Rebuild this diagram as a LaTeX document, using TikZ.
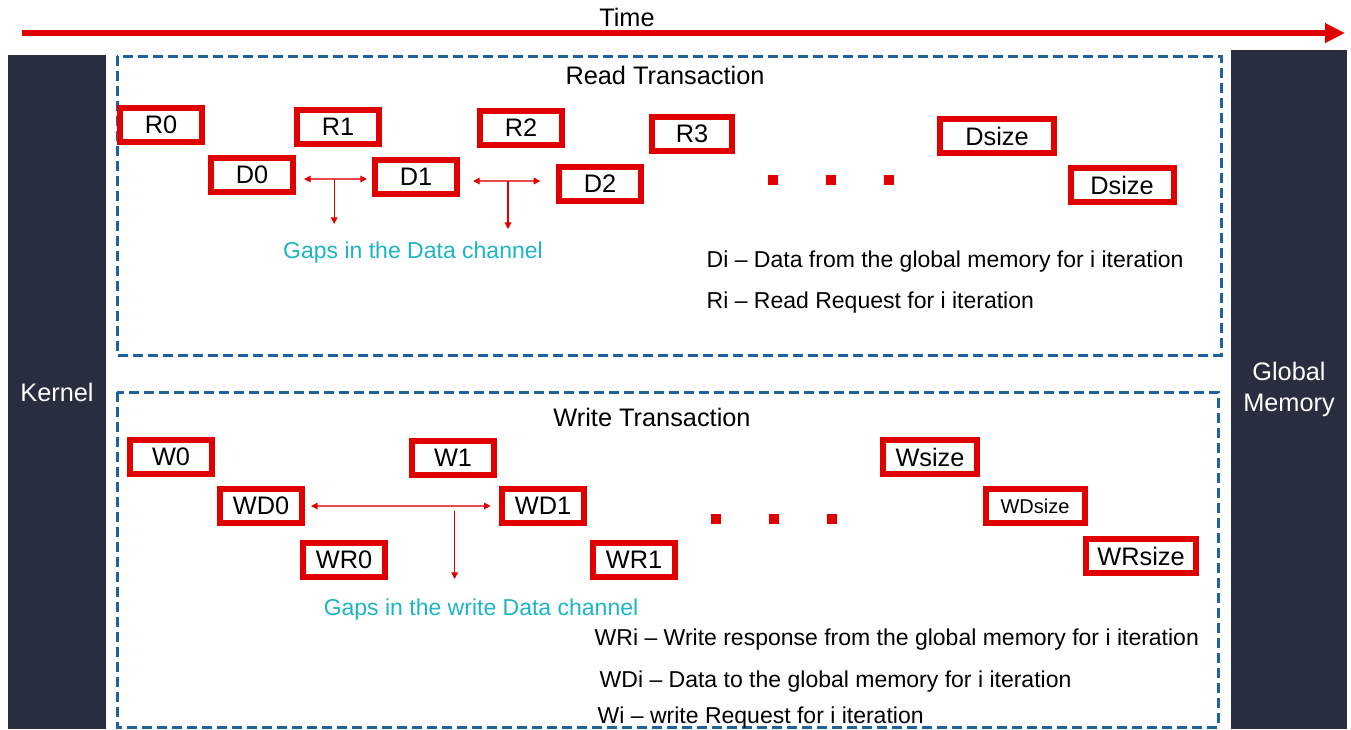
\documentclass[tikz,border=0pt]{standalone}
\usepackage{fontspec}
\setmainfont{Liberation Sans}
\usetikzlibrary{arrows.meta, positioning, calc}
\definecolor{inkred}{HTML}{E00000}
\definecolor{inknavy}{HTML}{282D3F}
\definecolor{inkblue}{HTML}{1F62A0}
\definecolor{inkteal}{HTML}{1BB5C3}

\begin{document}
\begin{tikzpicture}[x=0.75pt, y=-0.75pt,
    every node/.style={font=\fontsize{19}{23}\selectfont},
    slot/.style={draw=inkred, line width=4.5pt, fill=white,
                 minimum height=26pt, inner sep=0pt},
    bar/.style={fill=inknavy, text=white, inner sep=0pt, align=center},
    frame/.style={draw=inkblue, line width=2.25pt,
                  dash pattern=on 7.5pt off 3.75pt},
    dot/.style={fill=inkred, minimum size=7.5pt, inner sep=0pt},
    gap/.style={inkred!70, line width=0.9pt,
                {Triangle[length=5pt,width=5pt,color=inkred]}-{Triangle[length=5pt,width=5pt,color=inkred]}},
    drop/.style={inkred, line width=0.9pt, -{Triangle[length=5pt,width=5pt]}},
    gaptext/.style={text=inkteal, font=\fontsize{17.25}{20}\selectfont},
    legend/.style={anchor=west, font=\fontsize{17.25}{20}\selectfont}]
  \useasboundingbox (0,0) rectangle (1351,729);

  % time axis
  \coordinate (t0) at (22,33);
  \coordinate (t1) at (1345,33);
  \draw[inkred, line width=4.5pt, -{Triangle[length=15pt,width=14pt]}] (t0) -- (t1);
  \node (time) at (627,17.5) {Time};

  % side bars
  \node[bar, minimum width=73.5pt, minimum height=505.5pt] (kernel) at (57,392) {Kernel};
  \node[bar, minimum width=87pt, minimum height=509.25pt] (gmem) at (1289,389.5) {Global\\Memory};

  % read transaction
  \draw[frame] (117,56) rectangle (1221,355);
  \node (rtitle) at (665,75) {Read Transaction};
  \foreach \n/\lab/\x/\y/\w in {r0/R0/161/125/61.5pt, r1/R1/338/127/61pt,
      r2/R2/521/128/61pt, r3/R3/692/134/60pt, d0/D0/252/175/61.5pt,
      d1/D1/416/177/61pt, d2/D2/600/184/61pt, rs/Dsize/997/136/85.5pt,
      ds/Dsize/1122/185/77.25pt}
    \node[slot, minimum width=\w] (\n) at (\x,\y) {\lab};
  \foreach \x [count=\i] in {773,831,889}
    \node[dot] (rdot\i) at (\x,180) {};
  \draw[gap, shorten <=6pt, shorten >=4pt] (d0.east |- 0,179) -- coordinate (g0) (d1.west |- 0,179);
  \draw[gap, shorten <=10pt, shorten >=12pt] (d1.east |- 0,181) -- coordinate (g1) (d2.west |- 0,181);
  \coordinate (g0end) at (g0 |- 0,224);
  \coordinate (g1end) at (g1 |- 0,229);
  \draw[drop] (g0) -- (g0end);
  \draw[drop] (g1) -- (g1end);
  \node[gaptext] (rgaps) at (413,253) {Gaps in the Data channel};
  \node[legend] (leg1) at (702,262) {Di – Data from the global memory for i iteration};
  \node[legend] (leg2) at (702,303) {Ri – Read Request for i iteration};

  % write transaction
  \draw[frame] (117,392) rectangle (1218,727);
  \node (wtitle) at (652,417) {Write Transaction};
  \foreach \n/\lab/\x/\y/\w in {w0/W0/171/457/61.5pt, w1/W1/453/458/61.5pt,
      ws/Wsize/930/457/70.5pt, wd0/WD0/261/506/61.5pt,
      wd1/WD1/543/506/61pt, wr0/WR0/344/560/61.5pt,
      wr1/WR1/634/560/61pt, wrs/WRsize/1141/556/82.5pt}
    \node[slot, minimum width=\w] (\n) at (\x,\y) {\lab};
  \node[slot, minimum width=74.25pt, font=\fontsize{15}{18}\selectfont] (wds) at (1035,506) {WDsize};
  \foreach \x [count=\i] in {716,774,832}
    \node[dot] (wdot\i) at (\x,519) {};
  \draw[gap, shorten <=4.5pt, shorten >=6.5pt] (wd0.east) -- coordinate[pos=0.77] (wg) (wd1.west);
  \coordinate (wgend) at (wg |- 0,579);
  \draw[drop] ([yshift=-3.75pt]wg) -- (wgend);
  \node[gaptext] (wgaps) at (481,610) {Gaps in the write Data channel};
  \node[legend] (leg3) at (590,640) {WRi – Write response from the global memory for i iteration};
  \node[legend] (leg4) at (595,682) {WDi – Data to the global memory for i iteration};
  \node[legend] (leg5) at (593,718) {Wi – write Request for i iteration};
\end{tikzpicture}
\end{document}
